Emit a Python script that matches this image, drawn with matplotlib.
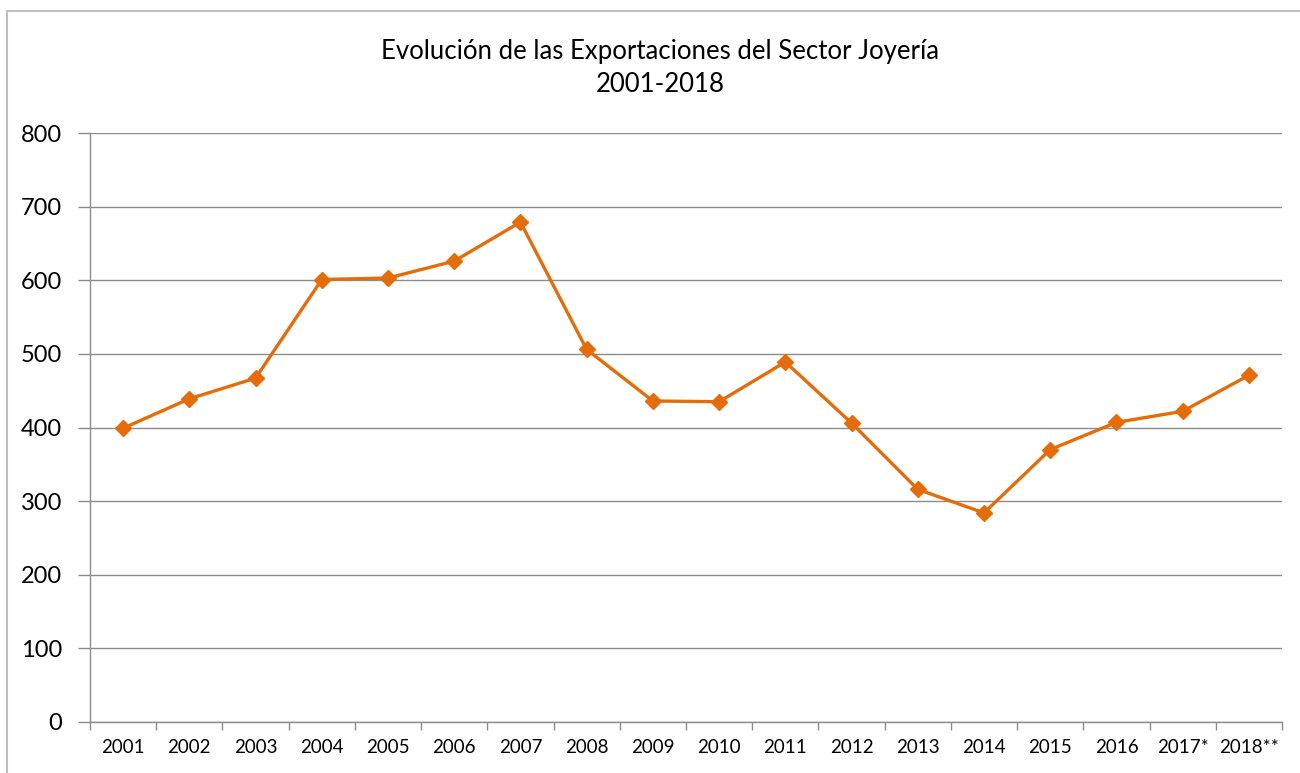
import matplotlib
matplotlib.use("Agg")
import matplotlib.pyplot as plt
from matplotlib.lines import Line2D

# Datos
anios = ["2001", "2002", "2003", "2004", "2005", "2006", "2007", "2008", "2009",
         "2010", "2011", "2012", "2013", "2014", "2015", "2016", "2017*", "2018**"]
exportaciones = [399, 439, 467, 601, 603, 626, 679, 506, 436,
                 435, 489, 406, 316, 284, 370, 407, 422, 471]
y_ticks = [0, 100, 200, 300, 400, 500, 600, 700, 800]

plt.rcParams['font.family'] = ['Lato', 'DejaVu Sans']

naranja = '#E46C0A'
gris = '#8C8C8C'

fig = plt.figure(figsize=(13, 7.73), dpi=100)
ax = fig.add_axes([90 / 1300, (773 - 722) / 773, (1282 - 90) / 1300, (722 - 133) / 773])

x = list(range(len(anios)))
ax.plot(x, exportaciones, color=naranja, linewidth=2.4, marker='D', markersize=8,
        markerfacecolor=naranja, markeredgecolor=naranja, zorder=3)

ax.set_xlim(-0.5, len(anios) - 0.5)
ax.set_ylim(0, 800)
ax.set_yticks(y_ticks)
ax.set_xticks(x)
ax.set_xticklabels(anios)

# ticks de categoría entre etiquetas
ax.set_xticks([i - 0.5 for i in range(len(anios) + 1)], minor=True)
ax.tick_params(axis='x', which='major', length=0, pad=12, labelsize=13.5)
ax.tick_params(axis='x', which='minor', length=6, color=gris, width=1)
ax.tick_params(axis='y', length=9, color=gris, width=1, labelsize=17, pad=11)

ax.grid(axis='y', color=gris, linewidth=1)
ax.set_axisbelow(True)
for s in ['top', 'right']:
    ax.spines[s].set_visible(False)
for s in ['left', 'bottom']:
    ax.spines[s].set_color(gris)
    ax.spines[s].set_linewidth(1)

fig.text(660 / 1300, 1 - 52 / 773, "Evolución de las Exportaciones del Sector Joyería",
         ha='center', va='center', fontsize=18.5)
fig.text(660 / 1300, 1 - 85 / 773, "2001-2018", ha='center', va='center', fontsize=18.5)

# marco del área del gráfico
borde = '#BFBFBF'
fig.add_artist(Line2D([7 / 1300, 7 / 1300], [0, 1 - 11 / 773], color=borde, linewidth=1.5,
                      transform=fig.transFigure))
fig.add_artist(Line2D([7 / 1300, 1], [1 - 11 / 773, 1 - 11 / 773], color=borde, linewidth=1.5,
                      transform=fig.transFigure))

fig.savefig("out.png", dpi=100)
